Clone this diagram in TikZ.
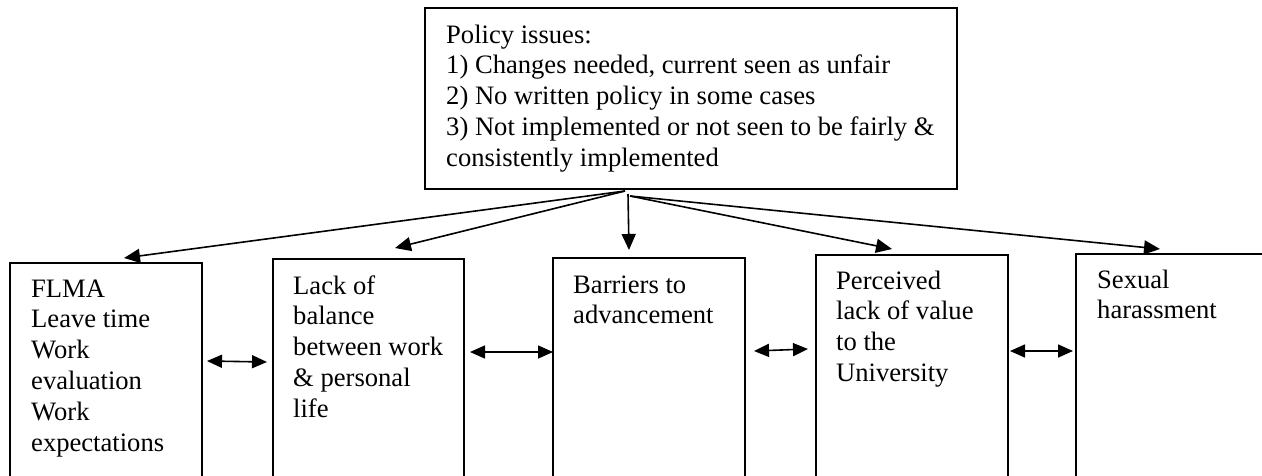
\documentclass[tikz,border=0pt]{standalone}
\usepackage{fontspec}
\setmainfont{Liberation Serif}
\usetikzlibrary{arrows.meta,calc}
\begin{document}
\begin{tikzpicture}[x=1pt,y=-1pt,
  box/.style={draw, line width=1.8pt, inner sep=0pt, outer sep=0pt, anchor=north west},
  lbl/.style={inner sep=0pt, anchor=base west, font=\fontsize{26.6}{30.8}\selectfont},
  flow/.style={line width=1.6pt, -{Triangle[length=16pt,width=14pt]}},
  both/.style={line width=1.6pt, {Triangle[length=15pt,width=13pt]}-{Triangle[length=15pt,width=13pt]}}]
\useasboundingbox (0,0) rectangle (1262,475);
\clip (0,0) rectangle (1262,475);

% boxes
\node[box, minimum width=532pt, minimum height=181pt] (policy) at (425,8) {};
\node[box, minimum width=192pt, minimum height=240pt] (flma) at (10,263) {};
\node[box, minimum width=191pt, minimum height=240pt] (lack) at (273,259) {};
\node[box, minimum width=192pt, minimum height=240pt] (barriers) at (553,258) {};
\node[box, minimum width=192pt, minimum height=240pt] (perceived) at (816,255) {};
\node[box, minimum width=192pt, minimum height=240pt] (sexual) at (1076,254) {};

% texts
\node[lbl] (policytext) at ($(policy.north west)+(21,35)$) {\parbox[t]{520pt}{Policy issues:\\
1) Changes needed, current seen as unfair\\
2) No written policy in some cases\\
3) Not implemented or not seen to be fairly \&\\
consistently implemented}};
\node[lbl] (flmatext) at ($(flma.north west)+(21,34)$) {\parbox[t]{170pt}{FLMA\\Leave time\\Work\\evaluation\\Work\\expectations}};
\node[lbl] (lacktext) at ($(lack.north west)+(20,35)$) {\parbox[t]{170pt}{Lack of\\balance\\between work\\\& personal\\life}};
\node[lbl] (barrierstext) at ($(barriers.north west)+(20,35)$) {\parbox[t]{170pt}{Barriers to\\advancement}};
\node[lbl] (perceivedtext) at ($(perceived.north west)+(20,34)$) {\parbox[t]{170pt}{Perceived\\lack of value\\to the\\University}};
\node[lbl] (sexualtext) at ($(sexual.north west)+(21,34)$) {\parbox[t]{170pt}{Sexual\\harassment}};

% fan-out points under the policy box
\coordinate (fanL) at ($(policy.south west)+(200,2)$);
\coordinate (fanM) at ($(policy.south west)+(203,5)$);
\coordinate (fanR) at ($(policy.south west)+(205,7)$);

% arrow tips above the boxes
\coordinate (inflma) at ($(flma.north west)+(114,-5)$);
\coordinate (inlack) at ($(lack.north west)+(122,-11)$);
\coordinate (inbarriers) at ($(barriers.north west)+(76,-8)$);
\coordinate (inperceived) at ($(perceived.north west)+(76,-6)$);
\coordinate (insexual) at ($(sexual.north west)+(84,-5)$);

\draw[flow] (fanL) -- (inflma);
\draw[flow] (fanL) -- (inlack);
\draw[flow] (fanM) -- (inbarriers);
\draw[flow] (fanR) -- (inperceived);
\draw[flow] (fanR) -- (insexual);

% links between neighbouring boxes
\coordinate (l1) at ($(flma.north east)+(5,98)$);
\coordinate (r1) at ($(lack.north west)+(-6,103)$);
\coordinate (l2) at ($(lack.north east)+(6,93)$);
\coordinate (r2) at ($(barriers.north west)+(0,94)$);
\coordinate (l3) at ($(barriers.north east)+(9,93)$);
\coordinate (r3) at ($(perceived.north west)+(-8,94)$);
\coordinate (l4) at ($(perceived.north east)+(2,96)$);
\coordinate (r4) at ($(sexual.north west)+(-3,97)$);

\draw[both] (l1) -- (r1);
\draw[both] (l2) -- (r2);
\draw[both] (l3) -- (r3);
\draw[both] (l4) -- (r4);
\end{tikzpicture}
\end{document}
